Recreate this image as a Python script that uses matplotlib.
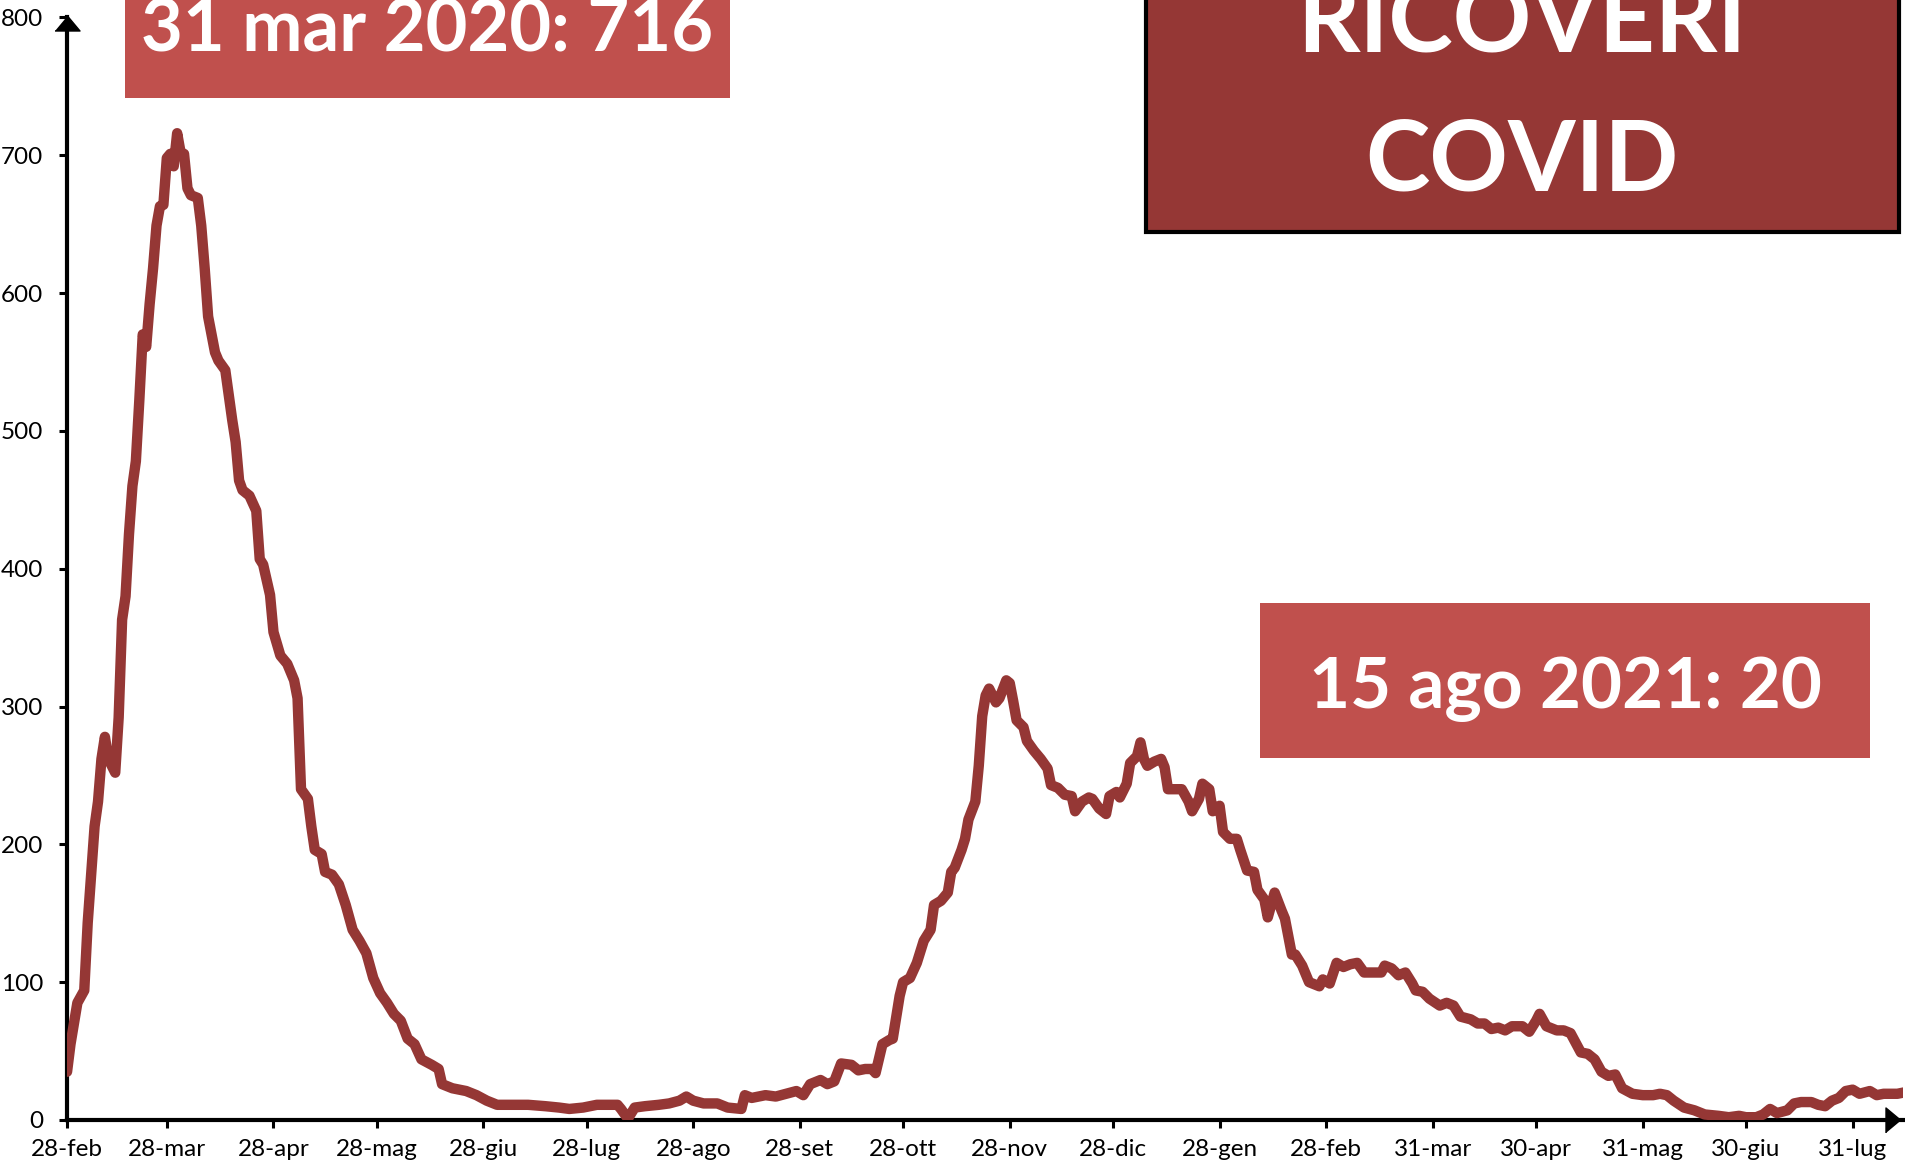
import numpy as np
import matplotlib
matplotlib.use("Agg")
import matplotlib.pyplot as plt
from matplotlib.patches import Rectangle

# giorni dal 28 febbraio 2020 e ricoveri
start = np.datetime64("2020-02-28")
giorni = [0, 1, 3, 5, 6, 8, 9, 10, 11, 12, 14, 15, 16, 17, 18, 19, 20, 21, 22, 23,
          24, 25, 26, 27, 28, 29, 30, 31, 32, 33, 34, 35, 36, 38, 39, 40, 41, 43, 44, 46,
          48, 49, 50, 51, 53, 55, 56, 57, 59, 60, 62, 64, 66, 67, 68, 70, 71, 72, 74, 75,
          77, 79, 81, 83, 85, 87, 89, 91, 93, 95, 97, 99, 101, 103, 106, 108, 109, 112, 116, 119,
          122, 125, 129, 134, 139, 143, 146, 150, 154, 157, 160, 161, 163, 165, 168, 172, 175, 178, 180, 182,
          185, 189, 192, 196, 197, 199, 203, 206, 209, 212, 214, 216, 219, 221, 223, 225, 228, 230, 232, 234,
          235, 237, 239, 240, 242, 243, 245, 247, 249, 251, 252, 254, 256, 257, 258, 260, 261, 262, 264, 265,
          266, 267, 268, 270, 271, 273, 274, 275, 276, 278, 279, 281, 283, 285, 286, 288, 290, 292, 293, 295,
          297, 298, 300, 302, 303, 305, 306, 308, 309, 311, 312, 313, 314, 316, 318, 319, 320, 322, 324, 326,
          327, 329, 330, 332, 333, 335, 336, 338, 340, 341, 343, 345, 346, 348, 349, 350, 351, 353, 354, 356,
          357, 359, 361, 364, 365, 367, 369, 371, 373, 375, 377, 380, 382, 383, 385, 387, 389, 391, 392, 394,
          396, 399, 401, 403, 405, 408, 410, 412, 414, 416, 418, 420, 423, 425, 427, 428, 430, 433, 435, 437,
          440, 442, 444, 446, 448, 450, 452, 455, 458, 461, 463, 465, 467, 470, 473, 476, 480, 483, 486, 488,
          491, 493, 495, 497, 500, 502, 504, 507, 509, 511, 513, 515, 517, 519, 521, 524, 526, 528, 530, 532,
          534]
ricoveri = [35, 55, 85, 94, 143, 213, 231, 262, 278, 262, 252, 292, 363, 380, 425, 460, 478, 522, 570, 561,
            592, 618, 649, 663, 664, 698, 701, 692, 716, 702, 701, 676, 671, 669, 649, 618, 583, 557, 551, 544,
            508, 492, 464, 457, 453, 442, 407, 403, 381, 354, 337, 331, 319, 306, 240, 233, 213, 196, 193, 180,
            178, 171, 156, 138, 130, 121, 103, 92, 85, 77, 72, 59, 55, 44, 40, 37, 26, 23, 21, 18,
            14, 11, 11, 11, 10, 9, 8, 9, 11, 11, 11, 8, 1, 9, 10, 11, 12, 14, 17, 14,
            12, 12, 9, 8, 18, 16, 18, 17, 19, 21, 18, 26, 29, 26, 28, 41, 40, 36, 37, 37,
            34, 55, 58, 59, 90, 100, 103, 114, 130, 138, 156, 159, 165, 180, 183, 196, 204, 218, 231, 257,
            293, 308, 313, 303, 306, 319, 317, 304, 290, 285, 275, 268, 262, 255, 243, 241, 236, 235, 224, 231,
            234, 233, 226, 222, 235, 238, 234, 244, 259, 264, 274, 262, 257, 260, 262, 256, 240, 240, 240, 231,
            224, 233, 244, 240, 224, 228, 209, 204, 204, 196, 181, 180, 167, 160, 147, 156, 165, 152, 146, 120,
            120, 112, 100, 97, 102, 99, 114, 111, 113, 114, 107, 107, 107, 112, 110, 105, 107, 99, 94, 93,
            88, 83, 85, 83, 75, 73, 70, 70, 66, 67, 65, 68, 68, 64, 72, 77, 68, 65, 65, 63,
            49, 48, 44, 35, 32, 33, 23, 19, 18, 18, 19, 18, 14, 9, 7, 4, 3, 2, 3, 2,
            2, 4, 8, 5, 7, 12, 13, 13, 11, 10, 14, 16, 21, 22, 19, 21, 18, 19, 19, 19,
            20]

date_tick = ["2020-02-28", "2020-03-28", "2020-04-28", "2020-05-28", "2020-06-28", "2020-07-28",
             "2020-08-28", "2020-09-28", "2020-10-28", "2020-11-28", "2020-12-28", "2021-01-28",
             "2021-02-28", "2021-03-31", "2021-04-30", "2021-05-31", "2021-06-30", "2021-07-31"]
etichette_tick = ["28-feb", "28-mar", "28-apr", "28-mag", "28-giu", "28-lug", "28-ago", "28-set",
                  "28-ott", "28-nov", "28-dic", "28-gen", "28-feb", "31-mar", "30-apr", "31-mag",
                  "30-giu", "31-lug"]
valori_y = [0, 100, 200, 300, 400, 500, 600, 700, 800]

nota_picco = "31 mar 2020: 716"
nota_ultimo = "15 ago 2021: 20"

rosso_scuro = "#953735"
rosso_chiaro = "#C0504D"

plt.rcParams["font.family"] = ["Lato", "DejaVu Sans"]

fig = plt.figure(figsize=(19.05, 11.63), dpi=100)
ax = fig.add_axes([0.0352, 0.037, 0.9635, 0.948])

ax.plot(giorni, ricoveri, color=rosso_scuro, linewidth=7.5, solid_joinstyle="round",
        solid_capstyle="round", zorder=3)

pos_tick = [(np.datetime64(d) - start).astype(int) for d in date_tick]
ax.set_xticks(pos_tick)
ax.set_xticklabels(etichette_tick)
ax.set_yticks(valori_y)
ax.set_xlim(0, 533.5)
ax.set_ylim(0, 800)

for s in ["top", "right"]:
    ax.spines[s].set_visible(False)
for s in ["left", "bottom"]:
    ax.spines[s].set_linewidth(3)
    ax.spines[s].set_color("black")

ax.tick_params(axis="both", direction="out", length=6, width=2.2, labelsize=17.5, colors="black")
ax.tick_params(axis="y", pad=11)
ax.tick_params(axis="x", pad=8)

# frecce degli assi
ax.plot([0], [796], marker=[(-1, -0.6), (1, -0.6), (0, 0.6)], ms=18, color="black",
        clip_on=False, zorder=5)
ax.plot([530.8], [0], marker=[(-0.6, -1), (-0.6, 1), (0.6, 0)], ms=18, color="black",
        clip_on=False, zorder=5)

# riquadri
fig.patches.append(Rectangle((0.0656, 0.9157), 0.3176, 0.12, transform=fig.transFigure,
                             facecolor=rosso_chiaro, edgecolor="none", zorder=1))
fig.patches.append(Rectangle((0.6614, 0.3482), 0.3202, 0.1333, transform=fig.transFigure,
                             facecolor=rosso_chiaro, edgecolor="none", zorder=1))
fig.patches.append(Rectangle((0.6015, 0.8005), 0.3955, 0.25, transform=fig.transFigure,
                             facecolor=rosso_scuro, edgecolor="black", linewidth=3, zorder=1))

fig.text(0.2244, 0.956, nota_picco, ha="center", va="baseline", color="white",
         fontsize=52, fontweight="bold")
fig.text(0.8215, 0.3912, nota_ultimo, ha="center", va="baseline", color="white",
         fontsize=51, fontweight="bold")
fig.text(0.799, 0.956, "RICOVERI", ha="center", va="baseline", color="white",
         fontsize=70, fontweight="bold")
fig.text(0.799, 0.8358, "COVID", ha="center", va="baseline", color="white",
         fontsize=70, fontweight="bold")

fig.savefig("out.png", dpi=100)
